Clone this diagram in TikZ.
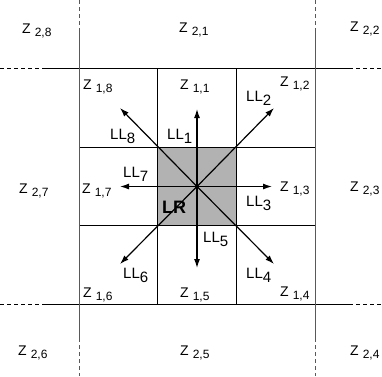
\documentclass[tikz,border=0pt]{standalone}
\usepackage{fontspec}
\setmainfont{Liberation Sans}
\usetikzlibrary{arrows.meta}
\tikzset{
  zlabel/.style={anchor=base west,inner sep=0pt,font=\fontsize{14}{14}\selectfont},
  lllabel/.style={anchor=base west,inner sep=0pt,font=\fontsize{15}{15}\selectfont},
  cellline/.style={line width=1.3pt},
  borderline/.style={line width=1.4pt,draw=black!65},
  dashline/.style={line width=1.2pt,dash pattern=on 4pt off 3pt},
  ray/.style={-{Latex[length=9pt,width=6pt]},line width=1.2pt}
}
\newcommand{\zlab}[1]{Z\hspace{4pt}\raisebox{-3.5pt}{\fontsize{12}{12}\selectfont #1}}
\newcommand{\lllab}[1]{LL\raisebox{-4pt}{#1}}

\begin{document}
\begin{tikzpicture}[x=1pt,y=-1pt,>=Latex]
  \useasboundingbox (0,0) rectangle (382,376);

  % shaded centre cell
  \fill[black!30] (157.5,147.5) rectangle (236.5,225.5);

  % inner cell lines
  \draw[cellline] (157.5,68.5)--(157.5,304.5);
  \draw[cellline] (236.5,68.5)--(236.5,304.5);
  \draw[cellline] (79.5,147.5)--(315.5,147.5);
  \draw[cellline] (79.5,225.5)--(315.5,225.5);

  % outer ring lines
  \draw[cellline] (43,68.5)--(349,68.5);
  \draw[cellline] (43,304.5)--(349,304.5);
  \draw[dashline] (0,68.5)--(43,68.5);
  \draw[dashline] (349,68.5)--(382,68.5);
  \draw[dashline] (0,304.5)--(43,304.5);
  \draw[dashline] (349,304.5)--(382,304.5);
  \draw[borderline] (79.5,30)--(79.5,338);
  \draw[borderline] (315.5,30)--(315.5,338);
  \draw[borderline,dashline] (79.5,0)--(79.5,30);
  \draw[borderline,dashline] (79.5,338)--(79.5,376);
  \draw[borderline,dashline] (315.5,0)--(315.5,30);
  \draw[borderline,dashline] (315.5,338)--(315.5,376);

  % rays from the centre
  \coordinate (c) at (197,186.5);
  \coordinate (t1) at (197,109);
  \coordinate (t2) at (274,108);
  \coordinate (t3) at (272,186.5);
  \coordinate (t4) at (274,264);
  \coordinate (t5) at (197,268);
  \coordinate (t6) at (120,264);
  \coordinate (t7) at (120,186.5);
  \coordinate (t8) at (120,108);
  \foreach \i in {1,...,8}
    \draw[ray] (c)--(t\i);
  \fill (c) circle (2pt);

  % zone labels
  \node[zlabel] (z28) at (22,33) {\zlab{2,8}};
  \node[zlabel] (z21) at (179,32) {\zlab{2,1}};
  \node[zlabel] (z22) at (350,31) {\zlab{2,2}};
  \node[zlabel] (z18) at (83,89) {\zlab{1,8}};
  \node[zlabel] (z11) at (180,89) {\zlab{1,1}};
  \node[zlabel] (z12) at (280,86) {\zlab{1,2}};
  \node[zlabel] (z27) at (19,193) {\zlab{2,7}};
  \node[zlabel] (z17) at (82,193) {\zlab{1,7}};
  \node[zlabel] (z13) at (280,191) {\zlab{1,3}};
  \node[zlabel] (z23) at (350,191) {\zlab{2,3}};
  \node[zlabel] (z16) at (83,297) {\zlab{1,6}};
  \node[zlabel] (z15) at (180,297) {\zlab{1,5}};
  \node[zlabel] (z14) at (280,296) {\zlab{1,4}};
  \node[zlabel] (z26) at (18,355) {\zlab{2,6}};
  \node[zlabel] (z25) at (180,355) {\zlab{2,5}};
  \node[zlabel] (z24) at (350,355) {\zlab{2,4}};

  % ray labels
  \node[lllabel] (ll8) at (110,139) {\lllab{8}};
  \node[lllabel] (ll1) at (167,139) {\lllab{1}};
  \node[lllabel] (ll2) at (246,101) {\lllab{2}};
  \node[lllabel] (ll7) at (123,177) {\lllab{7}};
  \node[lllabel] (ll3) at (246,206) {\lllab{3}};
  \node[lllabel] (ll5) at (203,242) {\lllab{5}};
  \node[lllabel] (ll6) at (123,278) {\lllab{6}};
  \node[lllabel] (ll4) at (246,278) {\lllab{4}};
  \node[anchor=base west,inner sep=0pt,font=\fontsize{18}{18}\selectfont\bfseries] (lr) at (162,213) {LR};
\end{tikzpicture}
\end{document}
